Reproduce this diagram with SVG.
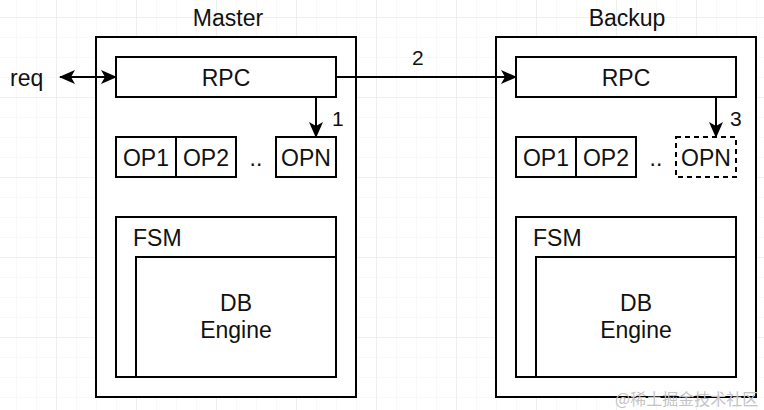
<svg xmlns="http://www.w3.org/2000/svg" width="764" height="410" viewBox="0 0 764 410">
<defs>
<pattern id="minor" x="16" y="17" width="20" height="20" patternUnits="userSpaceOnUse">
<path d="M0,0 H20 M0,0 V20" fill="none" stroke="#f2f2f2" stroke-width="1"/>
</pattern>
<pattern id="major" x="56" y="17" width="80" height="80" patternUnits="userSpaceOnUse">
<path d="M0,0 H80 M0,0 V80" fill="none" stroke="#e6e6e6" stroke-width="1"/>
</pattern>
<marker id="ah" viewBox="0 0 16 14" markerWidth="16" markerHeight="14" refX="15" refY="7" orient="auto-start-reverse" markerUnits="userSpaceOnUse">
<path d="M0,0 L16,7 L0,14 L4,7 Z" fill="#000"/>
</marker>
</defs>
<style>
.box{fill:#fff;stroke:#000;stroke-width:2}
.dash{fill:#fff;stroke:#000;stroke-width:2;stroke-dasharray:5 4}
.t{font-family:"Liberation Sans",Arial,sans-serif;font-size:23px;fill:#111}
.c{text-anchor:middle}
.n{font-family:"Liberation Sans",Arial,sans-serif;font-size:21px;fill:#111}
.conn{fill:none;stroke:#000;stroke-width:2}
</style>
<rect width="764" height="410" fill="#fff"/>
<rect width="764" height="410" fill="url(#minor)"/>
<rect width="764" height="410" fill="url(#major)"/>

<g id="master">
<text class="t c" x="228" y="26">Master</text>
<rect class="box" x="96" y="37" width="260" height="360"/>
</g>
<g id="master-rpc">
<rect class="box" x="116" y="57" width="220" height="40"/>
<text class="t c" x="226" y="86">RPC</text>
</g>
<g id="master-op1">
<rect class="box" x="116" y="137" width="60" height="40"/>
<text class="t c" x="146" y="166">OP1</text>
</g>
<g id="master-op2">
<rect class="box" x="176" y="137" width="60" height="40"/>
<text class="t c" x="206" y="166">OP2</text>
</g>
<text class="t c" x="256" y="166">..</text>
<g id="master-opn">
<rect class="box" x="276" y="137" width="60" height="40"/>
<text class="t c" x="306" y="166">OPN</text>
</g>
<g id="master-fsm">
<rect class="box" x="116" y="217" width="220" height="160"/>
<text class="t" x="133" y="246">FSM</text>
</g>
<g id="master-db">
<rect class="box" x="136" y="257" width="200" height="120"/>
<text class="t c" x="236" y="311">DB</text>
<text class="t c" x="236" y="338">Engine</text>
</g>

<g id="backup">
<text class="t c" x="627" y="26">Backup</text>
<rect class="box" x="496" y="37" width="260" height="360"/>
</g>
<g id="backup-rpc">
<rect class="box" x="516" y="57" width="220" height="40"/>
<text class="t c" x="626" y="86">RPC</text>
</g>
<g id="backup-op1">
<rect class="box" x="516" y="137" width="60" height="40"/>
<text class="t c" x="546" y="166">OP1</text>
</g>
<g id="backup-op2">
<rect class="box" x="576" y="137" width="60" height="40"/>
<text class="t c" x="606" y="166">OP2</text>
</g>
<text class="t c" x="656" y="166">..</text>
<g id="backup-opn">
<rect class="dash" x="676" y="137" width="60" height="40"/>
<text class="t c" x="706" y="166">OPN</text>
</g>
<g id="backup-fsm">
<rect class="box" x="516" y="217" width="220" height="160"/>
<text class="t" x="533" y="246">FSM</text>
</g>
<g id="backup-db">
<rect class="box" x="536" y="257" width="200" height="120"/>
<text class="t c" x="636" y="311">DB</text>
<text class="t c" x="636" y="338">Engine</text>
</g>

<g id="req">
<text class="t" x="10" y="86">req</text>
</g>

<g id="connectors">
<path class="conn" d="M60,77 H116" marker-start="url(#ah)" marker-end="url(#ah)"/>
<path class="conn" d="M336,77 H516" marker-end="url(#ah)"/>
<path class="conn" d="M316,97 V137" marker-end="url(#ah)"/>
<path class="conn" d="M716,97 V137" marker-end="url(#ah)"/>
<text class="n" x="332" y="126">1</text>
<text class="n" x="412" y="65">2</text>
<text class="n" x="730" y="126">3</text>
</g>

<text x="615" y="405" style="font-family:'Noto Sans CJK SC','Liberation Sans',sans-serif;font-size:16px;fill:#c4c4c4">@稀土掘金技术社区</text>
</svg>
